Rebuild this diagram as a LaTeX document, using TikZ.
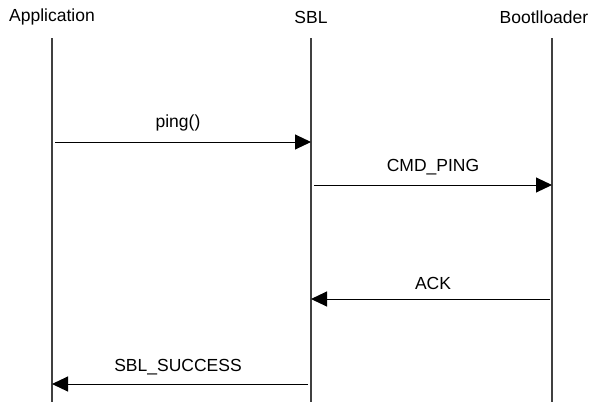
\documentclass[tikz,border=0pt]{standalone}
\usepackage{fontspec}
\setmainfont{Liberation Sans}
\usetikzlibrary{arrows.meta}

\tikzset{
  lifeline/.style={black!75, line width=1.2pt},
  msg/.style={black, line width=1pt, -{Triangle[length=16pt,width=15pt]}},
  msglabel/.style={inner sep=1pt}
}

\begin{document}
\begin{tikzpicture}[x=1pt,y=-1pt,font=\fontsize{17.5}{20}\selectfont]

\useasboundingbox (0,0) rectangle (599,402);

% heads
\node (app) at (52,17) {Application};
\node (sbl) at (311,17) {SBL};
\node (boot) at (544,17) {Bootlloader};

% lifelines
\coordinate (appT) at (52,38);
\coordinate (appB) at (52,402);
\coordinate (sblT) at (311,38);
\coordinate (sblB) at (311,402);
\coordinate (bootT) at (552,38);
\coordinate (bootB) at (552,402);

\draw[lifeline] (appT) -- (appB);
\draw[lifeline] (sblT) -- (sblB);
\draw[lifeline] (bootT) -- (bootB);

% messages
\coordinate (m1a) at (55,142);
\coordinate (m1b) at (311,142);
\coordinate (m2a) at (314,185);
\coordinate (m2b) at (552,185);
\coordinate (m3a) at (550,299);
\coordinate (m3b) at (311,299);
\coordinate (m4a) at (308,384);
\coordinate (m4b) at (52,384);

\draw[msg] (m1a) -- (m1b);
\draw[msg] (m2a) -- (m2b);
\draw[msg] (m3a) -- (m3b);
\draw[msg] (m4a) -- (m4b);

\node[msglabel] (ping) at (178,123) {ping()};
\node[msglabel] (cmdping) at (433,167) {CMD\_PING};
\node[msglabel] (ack) at (433,283) {ACK};
\node[msglabel] (success) at (178,367) {SBL\_SUCCESS};

\end{tikzpicture}
\end{document}
